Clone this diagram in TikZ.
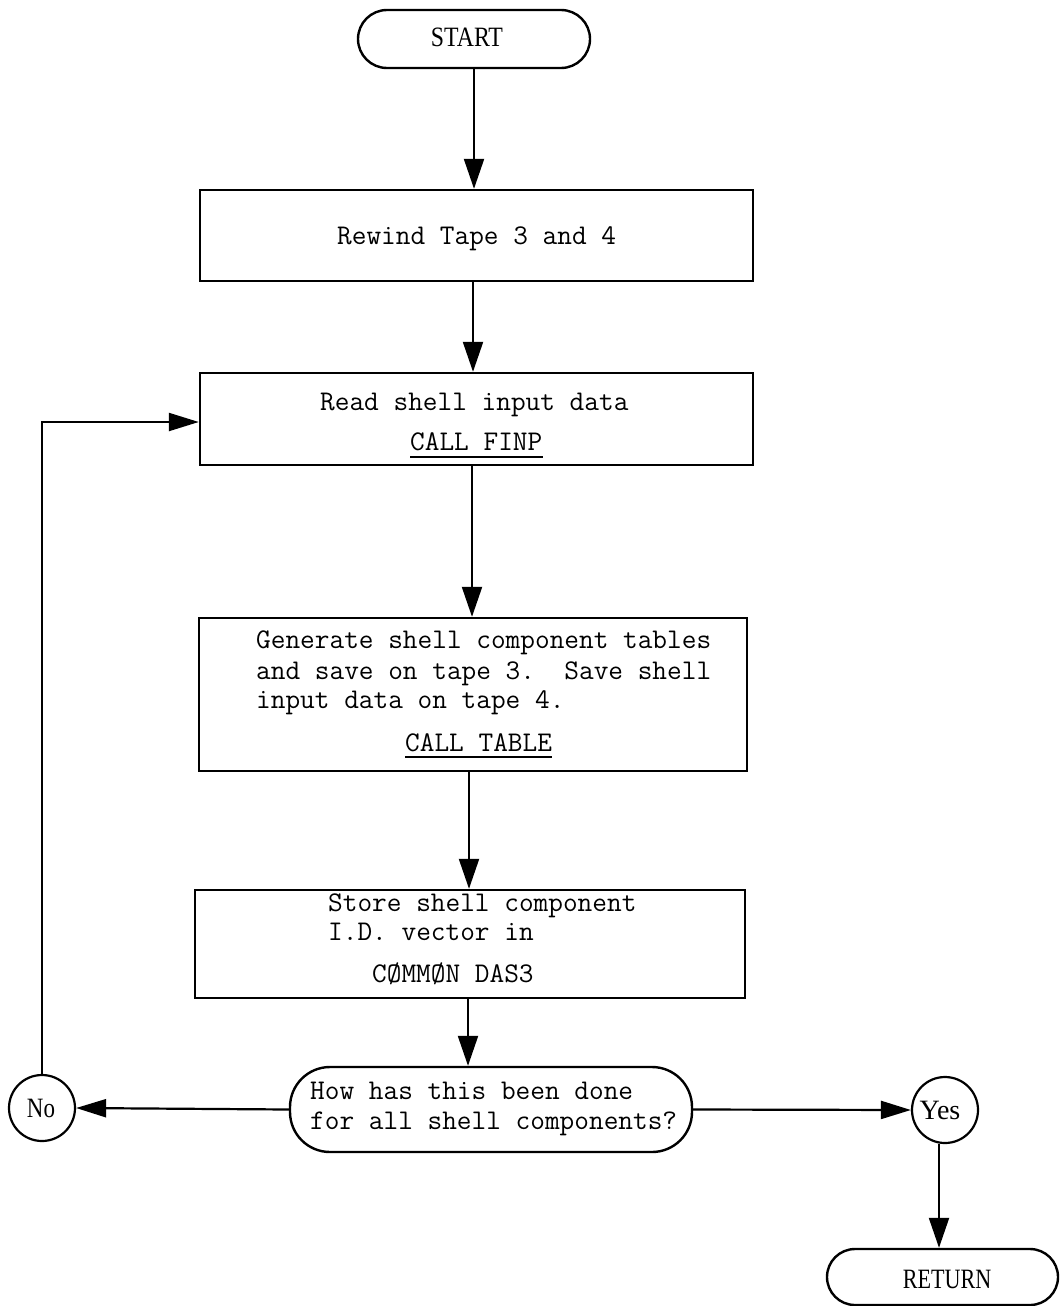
\documentclass[tikz,border=0pt]{standalone}
\usepackage{fontspec}
\newfontfamily\labfont{Liberation Serif}
\usetikzlibrary{arrows.meta}
\begin{document}
\begin{tikzpicture}[x=1pt,y=-1pt,
  boxnode/.style={draw,line width=2.4pt,rectangle,inner sep=0pt},
  termnode/.style={draw,line width=2.4pt,rectangle,inner sep=0pt},
  circnode/.style={draw,line width=2.2pt,circle,inner sep=0pt,minimum size=66pt},
  arr/.style={line width=2.2pt,-{Triangle[length=30pt,width=20pt]}},
  harr/.style={line width=2.2pt,-{Triangle[length=30pt,width=18pt]}},
  txt/.style={anchor=base west,inner sep=0pt,font=\fontsize{28.5}{30}\selectfont\ttfamily},
  rmtxt/.style={anchor=base,inner sep=0pt,font=\labfont\fontsize{28}{30}\selectfont},
  ul/.style={line width=1.8pt}
]
\useasboundingbox (0,0) rectangle (1060,1306);
\fill[white] (0,0) rectangle (1060,1306);

% shapes
\node[termnode,rounded corners=29pt,minimum width=232pt,minimum height=58pt] (start) at (474,39) {};
\node[boxnode,minimum width=553pt,minimum height=91pt] (rewind) at (476.5,235.5) {};
\node[boxnode,minimum width=553pt,minimum height=92pt] (read) at (476.5,419) {};
\node[boxnode,minimum width=548pt,minimum height=153pt] (gen) at (473,694.5) {};
\node[boxnode,minimum width=550pt,minimum height=108pt] (store) at (470,944) {};
\node[termnode,rounded corners=40pt,minimum width=402pt,minimum height=85pt] (dec) at (491,1109.5) {};
\node[circnode] (no) at (42,1108) {};
\node[circnode] (yes) at (945,1110) {};
\node[termnode,rounded corners=28pt,minimum width=231pt,minimum height=56pt] (ret) at (942.5,1277) {};

% texts
\node[rmtxt] (tstart) at (467,47) {\scalebox{0.85}[1]{START}};
\node[txt] (t1) at (337,244) {Rewind Tape 3 and 4};
\node[txt] (t2) at (320,410) {Read shell input data};
\node[txt] (finp) at (410,450) {CALL FINP};
\draw[ul] ([yshift=-7pt]finp.base west) -- ([yshift=-7pt]finp.base east);
\node[txt] (t3) at (256,648) {Generate shell component tables};
\node[txt] (t4) at (256,679) {and save on tape 3.\ \ Save shell};
\node[txt] (t5) at (256,708) {input data on tape 4.};
\node[txt] (table) at (405,751) {CALL TABLE};
\draw[ul] ([yshift=-6pt]table.base west) -- ([yshift=-6pt]table.base east);
\node[txt] (t6) at (328,911) {Store shell component};
\node[txt] (t7) at (328,940) {I.D. vector in};
\node[txt] (t8) at (372,982) {C\O MM\O N DAS3};
\node[txt] (t9) at (310,1099) {How has this been done};
\node[txt] (t10) at (310,1129) {for all shell components?};
\node[rmtxt] (tno) at (41,1117) {\scalebox{0.82}[1]{No}};
\node[rmtxt] (tyes) at (940,1119) {Yes};
\node[rmtxt] (tret) at (947,1288) {\scalebox{0.79}[1]{RETURN}};

% connectors
\coordinate (ax) at (473,0);
\coordinate (bx) at (469,0);
\draw[arr] (start.south) -- (start.south |- rewind.north);
\draw[arr] (ax |- rewind.south) -- (ax |- read.north);
\draw[arr] ([xshift=-1pt]ax |- read.south) -- ([xshift=-1pt]ax |- gen.north);
\draw[arr] (bx |- gen.south) -- (bx |- store.north);
\draw[arr] ([xshift=-1pt]bx |- store.south) -- ([xshift=-1pt]bx |- dec.north);
\draw[harr] (dec.west) -- (no.east);
\draw[harr] (dec.east) -- (yes.west);
\draw[arr] ([xshift=-6pt]yes.south) -- ([xshift=-6pt]yes.south |- ret.north);
\draw[harr] (no.north) |- ([yshift=-3pt]read.west);
\end{tikzpicture}
\end{document}
